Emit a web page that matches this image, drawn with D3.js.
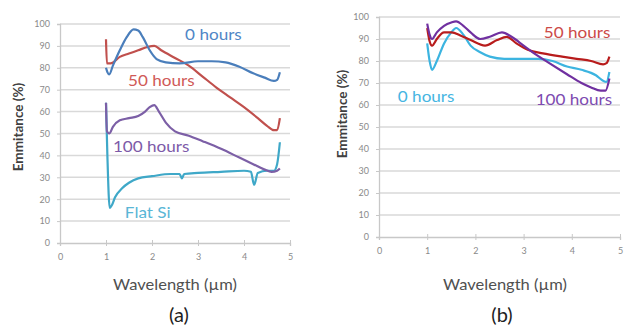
<!DOCTYPE html>
<html>
<head>
<meta charset="utf-8">
<script src="https://cdn.jsdelivr.net/npm/d3@7"></script>
<style>
  body { margin: 0; background: #fff; }
  text { font-family: Lato, "Open Sans", sans-serif; }
</style>
</head>
<body>
<div id="canvas"></div>
<script>
// ---- data (wavelength µm, emmitance %) ----
const xTicks = [0, 1, 2, 3, 4, 5];
const yTicks = [0, 10, 20, 30, 40, 50, 60, 70, 80, 90, 100];

// panel (a)
const a0hours = [[1.0,80],[1.03,78],[1.07,77],[1.15,81],[1.3,88],[1.45,94],[1.6,97.5],[1.7,97],[1.8,94],[1.95,88],[2.1,84],[2.3,82.5],[2.6,82],[3.0,83],[3.3,83],[3.6,82.5],[3.9,80.5],[4.2,77.5],[4.45,75.5],[4.65,74],[4.72,74.5],[4.78,78]];
const a50hours = [[1.0,93],[1.02,82],[1.1,82],[1.3,85],[1.5,86.5],[1.7,88],[1.9,89.5],[2.05,90],[2.2,88],[2.5,84.5],[2.8,81],[3.1,76],[3.4,71],[3.7,66.5],[4.0,62],[4.3,57],[4.5,53.5],[4.65,51.5],[4.72,51.5],[4.78,57]];
const a100hours = [[1.0,64],[1.02,51],[1.07,50],[1.15,53],[1.3,56],[1.5,57],[1.7,58],[1.85,60],[1.95,62],[2.05,63],[2.15,60],[2.3,55],[2.5,51],[2.8,49],[3.1,46.5],[3.5,43],[3.9,39],[4.2,36],[4.45,33.5],[4.6,32.5],[4.72,33],[4.78,34]];
const aFlatSi = [[1.0,64],[1.03,40],[1.08,16],[1.12,17],[1.2,21],[1.35,25],[1.5,27.5],[1.7,29.5],[2.0,30.5],[2.4,31.5],[2.6,31.5],[2.65,29.5],[2.7,31.5],[3.0,32],[3.5,32.5],[4.0,33],[4.15,32.5],[4.22,26.5],[4.3,32],[4.5,33],[4.65,33],[4.72,36],[4.78,46]];

// panel (b)
const b0hours = [[1.0,88],[1.05,80],[1.1,76],[1.2,80],[1.35,88],[1.5,93],[1.6,95],[1.75,92],[1.9,87],[2.1,84],[2.3,82],[2.6,81],[3.0,81],[3.3,81],[3.6,80],[3.9,77.5],[4.2,76],[4.5,73.5],[4.65,71],[4.72,70.5],[4.78,75]];
const b50hours = [[1.0,95],[1.05,89],[1.1,87],[1.2,90],[1.35,93],[1.5,93],[1.7,91.5],[1.9,89.5],[2.2,87],[2.45,89.5],[2.65,91],[2.85,88],[3.1,85],[3.4,83.5],[3.8,82],[4.1,81],[4.4,80],[4.65,78.5],[4.72,79],[4.78,82]];
const b100hours = [[1.0,97],[1.05,92],[1.1,90],[1.2,93],[1.35,96],[1.5,97.5],[1.6,98],[1.75,96],[1.9,93],[2.1,90],[2.3,91],[2.55,93],[2.75,91],[3.0,87],[3.25,83],[3.5,79.5],[3.9,74],[4.2,70],[4.4,68],[4.6,66.5],[4.7,66.5],[4.78,72]];

const width = 626;
const height = 329;

const svg = d3.select("#canvas").append("svg")
    .attr("width", width)
    .attr("height", height);

// the source picture is a bit wider than tall, widen the glyphs to match
function stretch(sel, k) {
    sel.each(function () {
        const w = this.getComputedTextLength();
        d3.select(this).attr("textLength", w * k).attr("lengthAdjust", "spacingAndGlyphs");
    });
}

function drawPanel(p) {
    const x = d3.scaleLinear().domain([0, 5]).range([p.x0, p.x1]);
    const y = d3.scaleLinear().domain([0, 100]).range([p.y0, p.y1]);
    const g = svg.append("g");

    // gridlines
    g.selectAll("line.grid").data(yTicks.slice(1)).enter().append("line")
        .attr("class", "grid")
        .attr("x1", x(0)).attr("x2", x(5))
        .attr("y1", d => y(d)).attr("y2", d => y(d))
        .style("stroke", "#d9d9d9")
        .style("stroke-width", 1.5);

    const ya = g.append("g")
        .attr("transform", `translate(${x(0)},0)`)
        .call(d3.axisLeft(y).tickValues(yTicks).tickSize(3).tickPadding(7));
    const xa = g.append("g")
        .attr("transform", `translate(0,${y(0)})`)
        .call(d3.axisBottom(x).tickValues(xTicks).tickFormat(d3.format("d")).tickSize(3).tickPadding(8));
    xa.selectAll(".tick line").attr("y1", -3);
    [ya, xa].forEach(a => {
        a.select(".domain").style("stroke", "#c8c8c8").style("stroke-width", 1.3);
        a.selectAll(".tick line").style("stroke", "#c8c8c8");
        a.selectAll(".tick text")
            .style("font-family", "Lato, sans-serif")
            .style("font-size", "9px")
            .style("fill", "#8a8a8a");
    });

    const line = d3.line()
        .x(d => x(d[0]))
        .y(d => y(d[1]))
        .curve(d3.curveMonotoneX);

    p.series.forEach(s => {
        g.append("path")
            .datum(s.data)
            .attr("d", line)
            .style("fill", "none")
            .style("stroke", s.color)
            .style("stroke-width", 2.2)
            .style("stroke-linejoin", "round");
    });
    p.series.forEach(s => {
        g.append("text")
            .attr("x", x(s.lx))
            .attr("y", y(s.ly))
            .attr("dy", "0.35em")
            .style("font-size", "15px")
            .style("fill", s.labelColor)
            .text(s.label)
            .call(stretch, 1.14);
    });

    g.append("text")
        .attr("text-anchor", "middle")
        .attr("transform", `translate(${p.ylx},${p.yly}) rotate(-90)`)
        .attr("dy", "0.35em")
        .style("font-size", "13.5px")
        .style("font-weight", "bold")
        .style("fill", "#404040")
        .text("Emmitance (%)");

    g.append("text")
        .attr("text-anchor", "middle")
        .attr("x", p.xlx)
        .attr("y", 285)
        .attr("dy", "0.35em")
        .style("font-size", "15px")
        .style("fill", "#505050")
        .text("Wavelength (\u00b5m)")
        .call(stretch, 1.1);

    g.append("text")
        .attr("text-anchor", "middle")
        .attr("x", p.capx)
        .attr("y", 315)
        .attr("dy", "0.35em")
        .style("font-size", "20px")
        .style("fill", "#222")
        .text(p.caption);
}

drawPanel({
    x0: 60, x1: 290, y0: 243, y1: 24,
    ylx: 18, yly: 127, xlx: 175, capx: 179, caption: "(a)",
    series: [
        { data: aFlatSi, color: "#3fa8c8", label: "Flat Si", labelColor: "#5ab6d6", lx: 1.41, ly: 14 },
        { data: a100hours, color: "#7c5fa6", label: "100 hours", labelColor: "#7d5aa8", lx: 1.15, ly: 44 },
        { data: a50hours, color: "#c0504d", label: "50 hours", labelColor: "#d05a57", lx: 1.48, ly: 74 },
        { data: a0hours, color: "#4a7ebb", label: "0 hours", labelColor: "#4f86c6", lx: 2.72, ly: 95 }
    ]
});

drawPanel({
    x0: 379, x1: 620, y0: 237, y1: 17,
    ylx: 342, yly: 114, xlx: 505, capx: 502, caption: "(b)",
    series: [
        { data: b0hours, color: "#3cb4e0", label: "0 hours", labelColor: "#45b5e2", lx: 0.39, ly: 63.6 },
        { data: b50hours, color: "#b81c1c", label: "50 hours", labelColor: "#cc4a48", lx: 3.42, ly: 92.7 },
        { data: b100hours, color: "#7030a0", label: "100 hours", labelColor: "#7d4bb0", lx: 3.25, ly: 62.3 }
    ]
});
</script>
</body>
</html>
